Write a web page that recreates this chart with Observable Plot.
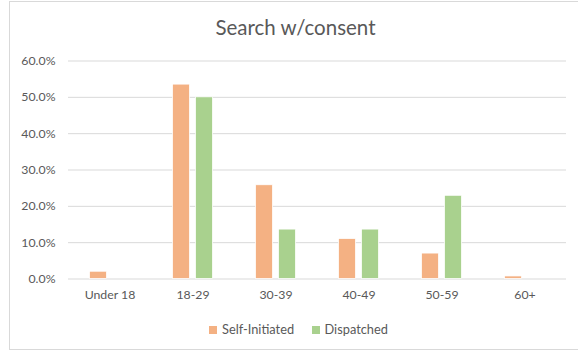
<!DOCTYPE html>
<html>
<head>
<meta charset="utf-8">
<script src="https://cdn.jsdelivr.net/npm/d3@7"></script>
<script src="https://cdn.jsdelivr.net/npm/@observablehq/plot@0.6"></script>
<style>
  html, body { margin: 0; padding: 0; background: #fff; }
  body { width: 578px; height: 354px; position: relative; overflow: hidden; font-family: Lato, "Open Sans", sans-serif; color: #595959; }
  #frame { position: absolute; left: 9px; top: 1px; width: 600px; height: 349px; border: 1px solid #d9d9d9; box-sizing: border-box; }
  #title { position: absolute; left: 9px; width: 573px; top: 15px; text-align: center; font-size: 20.5px; color: #595959; }
  #chart { position: absolute; left: 0; top: 40px; }
  #legend { position: absolute; top: 321px; left: 0; width: 578px; font-size: 12.8px; color: #595959; }
  .item { position: absolute; top: 0; white-space: nowrap; line-height: 16px; }
  .sw { display: inline-block; width: 8px; height: 8px; margin-right: 5px; vertical-align: 0px; }
</style>
</head>
<body>
<div id="frame"></div>
<div id="title">Search w/consent</div>
<div id="chart"></div>
<div id="legend"></div>
<script>
const categories = ["Under 18", "18-29", "30-39", "40-49", "50-59", "60+"];
const seriesNames = ["Self-Initiated", "Dispatched"];
const selfInitiated = [0.020, 0.535, 0.258, 0.110, 0.070, 0.007];
const dispatched = [0.000, 0.500, 0.136, 0.136, 0.229, 0.000];
const seriesColors = ["#F4B183", "#A9D18E"];
const yTicks = [0, 0.1, 0.2, 0.3, 0.4, 0.5, 0.6];

const rows = [];
categories.forEach((c, i) => {
  rows.push({cat: c, series: seriesNames[0], value: selfInitiated[i]});
  rows.push({cat: c, series: seriesNames[1], value: dispatched[i]});
});

const chart = Plot.plot({
  width: 578,
  height: 270,
  marginLeft: 67.5,
  marginRight: 12,
  marginTop: 20.5,
  marginBottom: 31.5,
  style: {fontFamily: "Lato, 'Open Sans', sans-serif", fontSize: "12.3px", color: "#595959", background: "transparent"},
  facet: {data: rows, x: "cat"},
  fx: {domain: categories, padding: 0, label: null, tickSize: 0, tickPadding: 11, axis: "bottom"},
  x: {domain: seriesNames, axis: null, paddingInner: 0.25, paddingOuter: 0.875},
  y: {domain: [0, 0.6], ticks: yTicks, tickFormat: d => (d * 100).toFixed(1) + "%", tickSize: 0, tickPadding: 13, label: null},
  color: {domain: seriesNames, range: seriesColors},
  marks: [
    Plot.ruleY(yTicks, {stroke: "#d9d9d9", strokeWidth: 1}),
    Plot.barY(rows, {x: "series", y: "value", fill: "series", stroke: "white", strokeWidth: 0.75})
  ]
});
document.getElementById("chart").appendChild(chart);

const legend = document.getElementById("legend");
const positions = [209, 311.5];
seriesNames.forEach((s, i) => {
  const d = document.createElement("div");
  d.className = "item";
  d.style.left = positions[i] + "px";
  const sw = document.createElement("span");
  sw.className = "sw";
  sw.style.background = seriesColors[i];
  d.appendChild(sw);
  d.appendChild(document.createTextNode(s));
  legend.appendChild(d);
});
</script>
</body>
</html>
